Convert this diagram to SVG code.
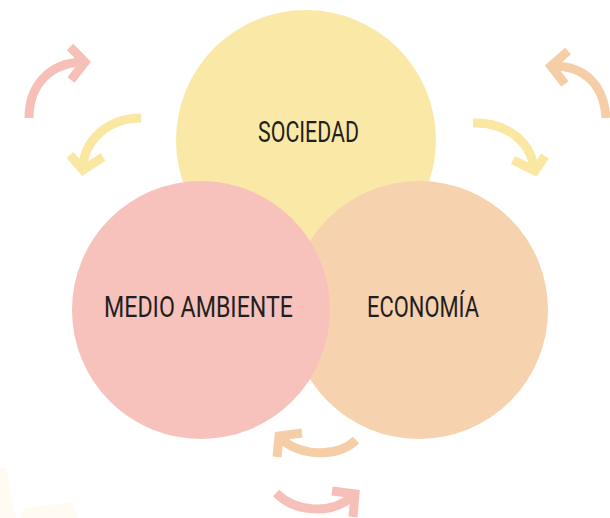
<svg xmlns="http://www.w3.org/2000/svg" width="610" height="518" viewBox="0 0 610 518">
<style>
.lbl{font-family:Roboto,"Liberation Sans",sans-serif;font-size:30px;font-weight:400;fill:#1f1f1f;}
.arr{fill:none;stroke-width:9;stroke-linecap:butt;stroke-linejoin:miter;}
.pk{stroke:#F6C0B9;}
.yl{stroke:#F9E7A2;}
.or{stroke:#F5CEA8;}
</style>
<rect width="610" height="518" fill="#ffffff"/>
<g id="decor">
<polygon points="0,468 6,468 16,518 0,518" fill="#FFFBF3"/>
<polygon points="20,518 24,508 72,502 78,518" fill="#FFFBF3"/>
</g>
<g id="sociedad">
<circle cx="306" cy="140" r="130" fill="#FAE9A6"/>
<text class="lbl" x="258" y="142" textLength="101" lengthAdjust="spacingAndGlyphs">SOCIEDAD</text>
</g>
<g id="economia">
<circle cx="419" cy="310" r="129" fill="#F6D2AE"/>
<text class="lbl" x="367" y="317" textLength="112" lengthAdjust="spacingAndGlyphs">ECONOMÍA</text>
</g>
<g id="medio-ambiente">
<circle cx="201" cy="310" r="129" fill="#F7C2BC"/>
<text class="lbl" x="104" y="317" textLength="189" lengthAdjust="spacingAndGlyphs">MEDIO AMBIENTE</text>
</g>
<g id="connectors">
<path class="arr pk" d="M29,118 C29,85 50,63 82,62"/>
<path class="arr pk" d="M70,47 L85,62 L71,80"/>
<path class="arr yl" d="M141,118 C108,118 85,140 83,166"/>
<path class="arr yl" d="M70,155 L83,170 L103,157"/>
<path class="arr or" d="M606,118 C604,85 585,66 553,66"/>
<path class="arr or" d="M568,51 L551,66 L565,84"/>
<path class="arr yl" d="M473,123 C505,122 530,140 534,168"/>
<path class="arr yl" d="M513,160 L535,171 L545,156"/>
<path class="arr or" d="M356,440 C340,456 305,458 282,440"/>
<path class="arr or" d="M302,433 L279,436 L277,457"/>
<path class="arr pk" d="M276,493 C295,512 330,515 352,497"/>
<path class="arr pk" d="M332,491 L355,494 L353,517"/>
</g>
</svg>
